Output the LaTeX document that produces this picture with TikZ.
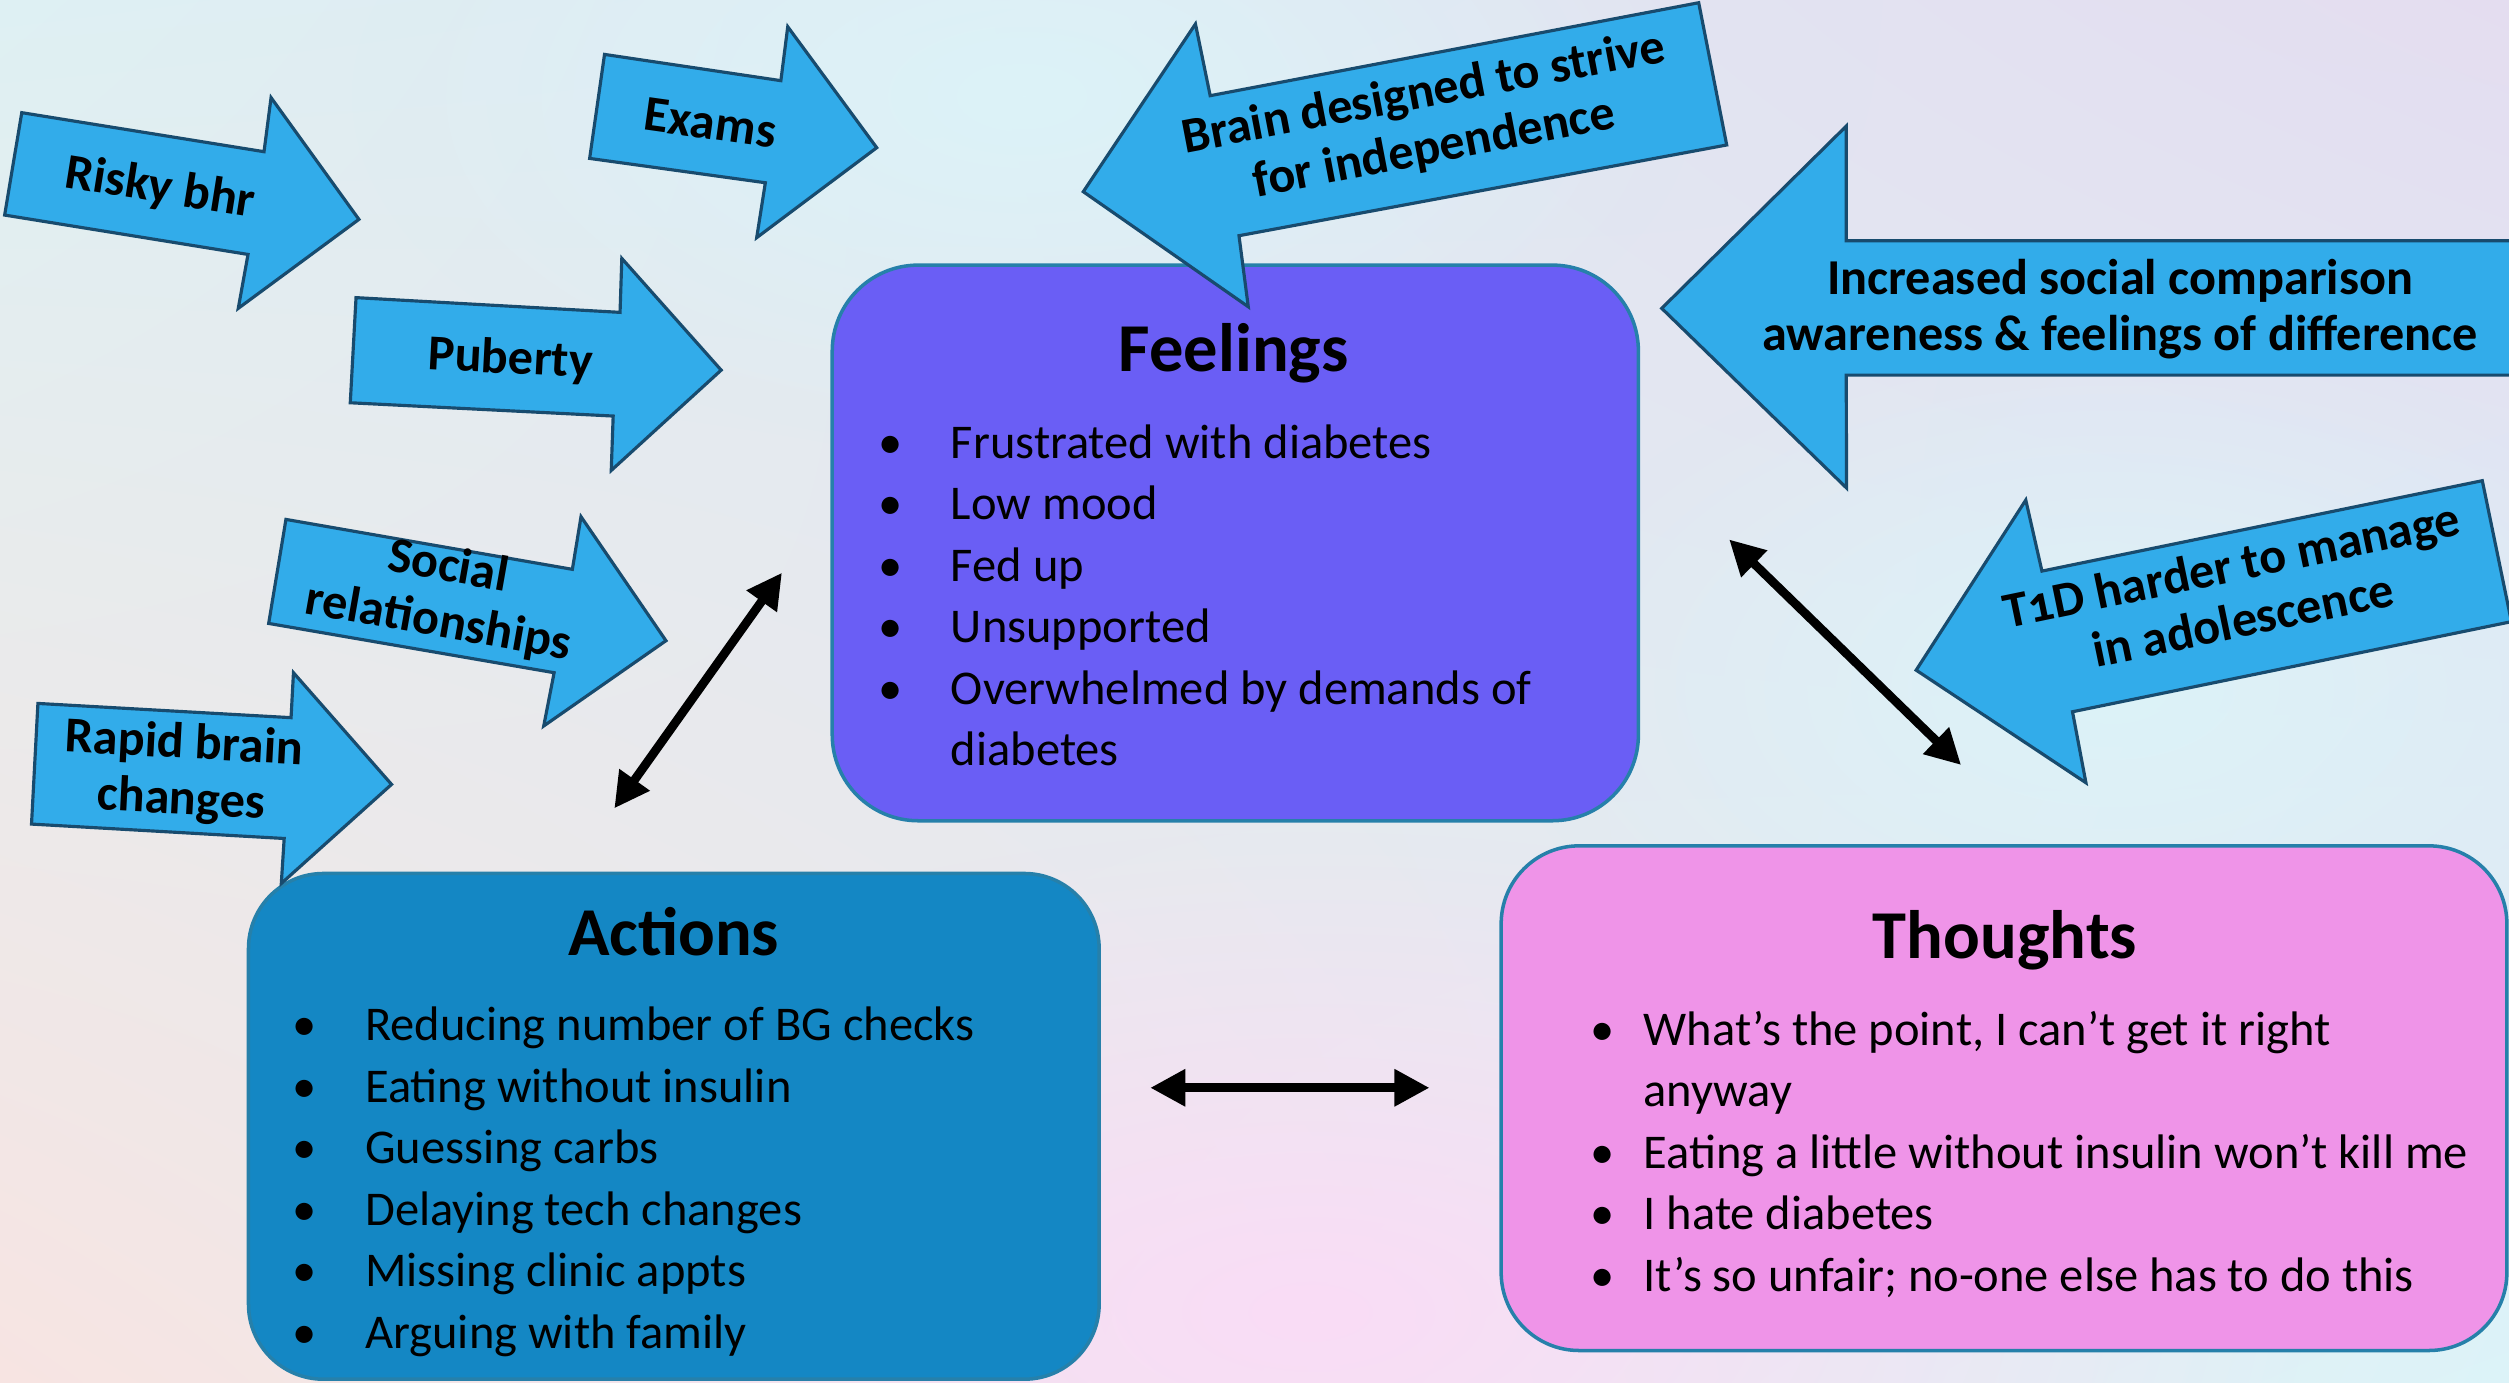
\documentclass[tikz,border=0pt]{standalone}
\usepackage{fontspec}
\setmainfont{Carlito}
\usepackage{tikz}
\usetikzlibrary{arrows.meta,fadings,shadings}
\definecolor{feelfill}  {RGB}{106, 94,245}
\definecolor{actfill}   {RGB}{ 20,135,196}
\definecolor{thoufill}  {RGB}{239,148,232}
\definecolor{boxline}   {RGB}{ 38,128,170}
\definecolor{arrowfill} {RGB}{ 50,172,234}
\definecolor{arrowline} {RGB}{ 24, 75,110}
\definecolor{bgcyan}    {RGB}{222,240,243}
\definecolor{bgpeach}   {RGB}{247,228,226}
\definecolor{bglav}     {RGB}{228,221,240}
\definecolor{bgpink}    {RGB}{250,220,246}
\definecolor{bgice}     {RGB}{220,243,248}
\tikzfading[name=softblob, inner color=transparent!0, outer color=transparent!100]
\newcommand{\itm}[2][20.7pt]{\makebox[#1][l]{\textbullet}#2}
\newcommand{\nxt}[2][20.7pt]{\makebox[#1]{}#2}
\newcommand{\onum}[1]{{\addfontfeatures{Numbers=OldStyle}#1}}

\begin{document}
\begin{tikzpicture}[x=0.016cm, y=-0.016cm,
  every node/.style={font=\fontsize{14}{17.5}\selectfont},
  blockarrow/.style={draw=arrowline, line width=0.9pt, fill=arrowfill, line join=miter},
  arrowtext/.style={font=\bfseries\fontsize{14.3}{16}\selectfont, align=center, inner sep=0pt},
  card/.style={draw=boxline, line width=1pt, rounded corners=#1, inner sep=0pt},
  cardtitle/.style={font=\bfseries\fontsize{19.5}{22}\selectfont, anchor=base, inner sep=0pt},
  cardlist/.style={font=\fontsize{13.8}{17.5}\selectfont, align=left, anchor=base west, inner sep=0pt},
  link/.style={{Triangle[length=10pt,width=10pt]}-{Triangle[length=10pt,width=10pt]}, line width=2.5pt}]

\useasboundingbox (0,0) rectangle (1568,864);
\clip (0,0) rectangle (1568,864);

% background
\shade[upper left=bgcyan, upper right=bglav, lower left=bgpeach, lower right=bgice]
  (0,0) rectangle (1568,864);
\fill[bgpink, path fading=softblob] (820,820) ellipse (620 and 300);
\fill[bgice, path fading=softblob] (640,60) ellipse (420 and 220);
\fill[bgice, path fading=softblob] (1320,430) ellipse (380 and 220);

% cards
\node[card=0.86cm, fill=feelfill, minimum width=8.064cm, minimum height=5.558cm] (feel) at (772,339.3) {};
\node[card=0.75cm, fill=actfill,  minimum width=8.509cm, minimum height=5.059cm] (act)  at (421.1,703.9) {};
\node[card=0.78cm, fill=thoufill, minimum width=10.06cm, minimum height=5.048cm] (thou) at (1252.4,686.3) {};

\node[cardtitle] (feelT) at (771,232)  {Feelings};
\node[cardtitle] (actT)  at (421,597)  {Actions};
\node[cardtitle] (thouT) at (1253,599) {Thoughts};

% lists sit on the baseline of their last line
\node[cardlist] (feelL) at (548.4,478.5) {%
  \itm{Frustrated with diabetes}\\
  \itm{Low mood}\\
  \itm{Fed up}\\
  \itm{Unsupported}\\
  \itm{Overwhelmed by demands of}\\
  \nxt{diabetes}};
\node[cardlist] (actL) at (182.4,842.5) {%
  \itm{Reducing number of BG checks}\\
  \itm{Eating without insulin}\\
  \itm{Guessing carbs}\\
  \itm{Delaying tech changes}\\
  \itm{Missing clinic appts}\\
  \itm{Arguing with family}};
\node[cardlist] (thouL) at (993.4,807) {%
  \itm[15.2pt]{What’s the point, I can’t get it right}\\
  \nxt[15.2pt]{anyway}\\
  \itm[15.2pt]{Eating a little without insulin won’t kill me}\\
  \itm[15.2pt]{I hate diabetes}\\
  \itm[15.2pt]{It’s so unfair; no-one else has to do this}};

% influences
\draw[blockarrow] (13.6,70.4) -- (165,94.8) -- (169.4,61) -- (224.3,137.1)
  -- (148.9,192.7) -- (155,159) -- (2.9,134.4) -- cycle;
\draw[blockarrow] (377.8,34) -- (488,50.4) -- (492.3,16.7) -- (547.9,92.3)
  -- (472.9,148.5) -- (478.3,114.2) -- (368.5,99) -- cycle;
\draw[blockarrow] (222.5,186) -- (387.5,195.2) -- (388.6,161.5) -- (450.7,231.3)
  -- (382,294) -- (383.2,260) -- (218.9,251.7) -- cycle;
\draw[blockarrow] (178.7,324.6) -- (357.7,355.8) -- (363.1,322.9) -- (416.2,400.4)
  -- (339.8,453.7) -- (346.3,420.4) -- (167.9,389.6) -- cycle;
\draw[blockarrow] (23.7,439.6) -- (181.9,448.5) -- (183.4,420.4) -- (244.7,490.2)
  -- (175.8,552.1) -- (177.6,524) -- (19.7,515) -- cycle;
\draw[blockarrow] (1061.6,1.7) -- (756.3,59.8) -- (747.1,15) -- (677,119.8)
  -- (780.1,191.7) -- (774.3,147.3) -- (1079.1,90.6) -- cycle;
\draw[blockarrow] (1580,150.4) -- (1153.8,150.4) -- (1153.8,78.8) -- (1038.5,192.7)
  -- (1154,305) -- (1153.8,234.4) -- (1580,234.4) -- cycle;
\draw[blockarrow] (1551.3,300.4) -- (1276.1,356.9) -- (1266,312.5) -- (1197.5,418.8)
  -- (1303.6,489.2) -- (1295.2,444.8) -- (1569.5,388.5) -- cycle;

\node[arrowtext, rotate=-9]    (risky)   at (100,118)   {Risky bhr};
\node[arrowtext, rotate=-8]    (exams)   at (444,77)    {Exams};
\node[arrowtext, rotate=-3]    (puberty) at (319,225)   {Puberty};
\node[arrowtext, rotate=-10]   (social)  at (277,372)   {Social\\relationships};
\node[arrowtext, rotate=-3]    (rapid)   at (114,483)   {Rapid brain\\changes};
\node[arrowtext, rotate=10.8]  (indep)   at (893,76)    {Brain designed to strive\\for independence};
\node[arrowtext]               (compare) at (1325,193)  {Increased social comparison\\awareness \& feelings of difference};
\node[arrowtext, rotate=11.7]  (harder)  at (1398,370)  {T\onum{1}D harder to manage\\in adolescence};

% two-way links
\coordinate (lA) at (488.7,357.9);
\coordinate (lB) at (383.9,505.2);
\coordinate (rA) at (1080.6,337.1);
\coordinate (rB) at (1225.6,478.1);
\coordinate (hA) at (718.8,679.8);
\coordinate (hB) at (893.4,679.8);
\draw[link] (lA) -- (lB);
\draw[link] (rA) -- (rB);
\draw[link] (hA) -- (hB);

\end{tikzpicture}
\end{document}
